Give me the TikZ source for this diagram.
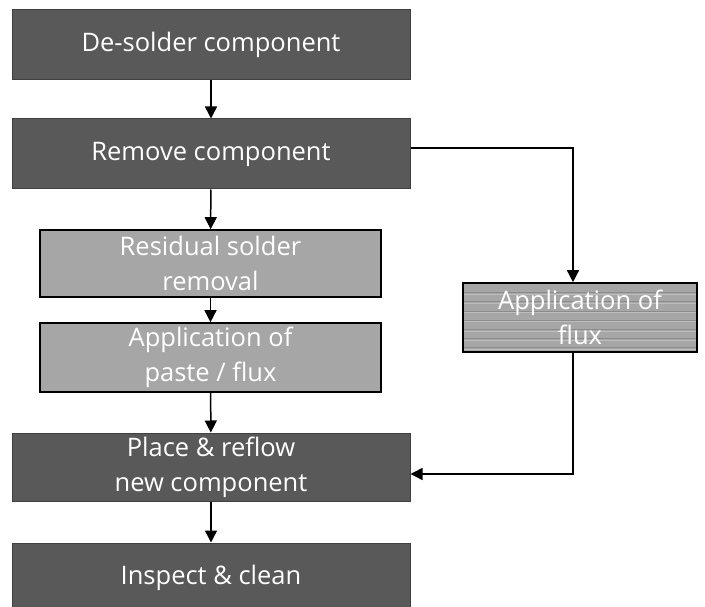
\documentclass[tikz,border=0pt]{standalone}
\usepackage{fontspec}
\setmainfont{Open Sans}
\usetikzlibrary{arrows.meta,positioning}
\definecolor{darkbox}{HTML}{595959}
\definecolor{lightbox}{HTML}{A6A6A6}
\definecolor{stripedark}{HTML}{8C8C8C}
\definecolor{stripelight}{HTML}{BDBDBD}

\tikzset{
  darkstep/.style={draw=black!75, line width=1pt, fill=darkbox, text=white,
    minimum width=398pt, minimum height=70pt, inner sep=0pt, align=center,
    font=\fontsize{25.5}{35}\selectfont},
  lightstep/.style={darkstep, draw=black, line width=1.6pt, fill=lightbox,
    minimum width=341pt, minimum height=68pt},
  stripestep/.style={lightstep, minimum width=234pt, minimum height=69pt,
    path picture={
      \foreach \k in {1,...,7} {
        \draw[stripedark, line width=1pt]
          ([yshift=-\k*9.2pt-0.5pt]path picture bounding box.north west) --
          ([yshift=-\k*9.2pt-0.5pt]path picture bounding box.north east);
        \draw[stripelight, line width=1pt]
          ([yshift=-\k*9.2pt-2pt]path picture bounding box.north west) --
          ([yshift=-\k*9.2pt-2pt]path picture bounding box.north east);
      }
    }},
  link/.style={line width=1.5pt, -{Triangle[width=12pt,length=12pt]}}
}

\begin{document}
\begin{tikzpicture}[x=1pt, y=-1pt]
\useasboundingbox (0,0) rectangle (705,607);
% main column
\node[darkstep] (desolder) at (211,45) {De-solder component};
\node[darkstep] (remove) at (211,154) {Remove component};
\node[lightstep, minimum height=67pt] (residual) at (210.5,263.5) {Residual solder\\removal};
\node[lightstep, minimum height=69pt] (paste) at (210.5,357.5) {Application of\\paste / flux};
\node[darkstep, minimum height=68pt] (place) at (211,467) {Place \& reflow\\new component};
\node[darkstep] (inspect) at (211,578) {Inspect \& clean};
% side branch
\node[stripestep] (flux) at (580,317.5) {Application of\\flux};
\coordinate (fluxin) at ([xshift=-7pt]flux.north);
\coordinate (fluxout) at ([xshift=-7pt]flux.south);

\draw[link] (desolder) -- (remove);
\draw[link] (remove) -- (residual);
\draw[link] (residual) -- (paste);
\draw[link] (paste) -- (place);
\draw[link] (place) -- (inspect);
\draw[link] ([yshift=6pt]remove.east) -| (fluxin);
\draw[link] (fluxout) |- ([yshift=-7pt]place.east);
\end{tikzpicture}
\end{document}
